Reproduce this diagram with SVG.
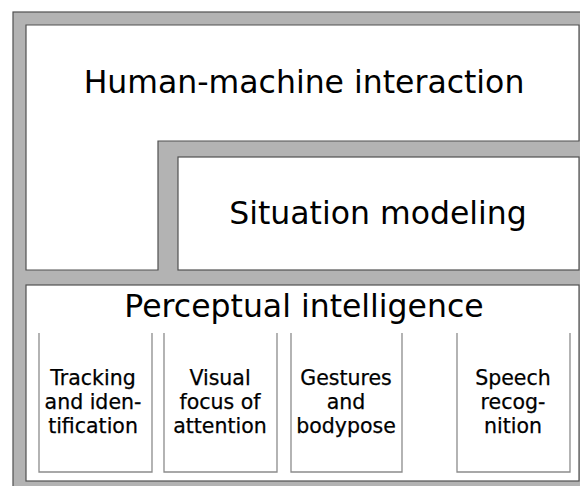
<svg xmlns="http://www.w3.org/2000/svg" width="580" height="486" viewBox="0 0 580 486">
<style>
.frame{fill:#b3b3b3;stroke:#505050;stroke-width:1.2}
.panel{fill:#ffffff;stroke:#505050;stroke-width:1.2}
.sub{fill:none;stroke:#8c8c8c;stroke-width:1.3}
.big{font-family:"DejaVu Sans",sans-serif;font-size:31.5px;fill:#000;text-anchor:middle}
.small{font-family:"DejaVu Sans",sans-serif;font-size:20.5px;fill:#000;text-anchor:middle;stroke:#000;stroke-width:0.25}
</style>
<rect width="580" height="486" fill="#ffffff"/>
<rect class="frame" x="13" y="12" width="600" height="490"/>
<g id="hmi">
<path class="panel" d="M26,25 H579 V141 H158 V270 H26 Z"/>
<text class="big" x="304" y="93">Human-machine interaction</text>
</g>
<g id="situation">
<rect class="panel" x="178" y="157" width="401" height="113"/>
<text class="big" x="378" y="224">Situation modeling</text>
</g>
<g id="perceptual">
<rect class="panel" x="26" y="285" width="553" height="196"/>
<text class="big" x="304" y="317">Perceptual intelligence</text>
</g>
<g id="tracking">
<path class="sub" d="M39,333 V472 H152 V333"/>
<text class="small" x="93" y="385">Tracking</text>
<text class="small" x="93" y="409">and iden-</text>
<text class="small" x="93" y="433">tification</text>
</g>
<g id="visual">
<path class="sub" d="M164,333 V472 H277 V333"/>
<text class="small" x="220" y="385">Visual</text>
<text class="small" x="220" y="409">focus of</text>
<text class="small" x="220" y="433">attention</text>
</g>
<g id="gestures">
<path class="sub" d="M291,333 V472 H402 V333"/>
<text class="small" x="346" y="385">Gestures</text>
<text class="small" x="346" y="409">and</text>
<text class="small" x="346" y="433">bodypose</text>
</g>
<g id="speech">
<path class="sub" d="M457,333 V472 H570 V333"/>
<text class="small" x="513" y="385">Speech</text>
<text class="small" x="513" y="409">recog-</text>
<text class="small" x="513" y="433">nition</text>
</g>
<g id="connectors"></g>
</svg>
